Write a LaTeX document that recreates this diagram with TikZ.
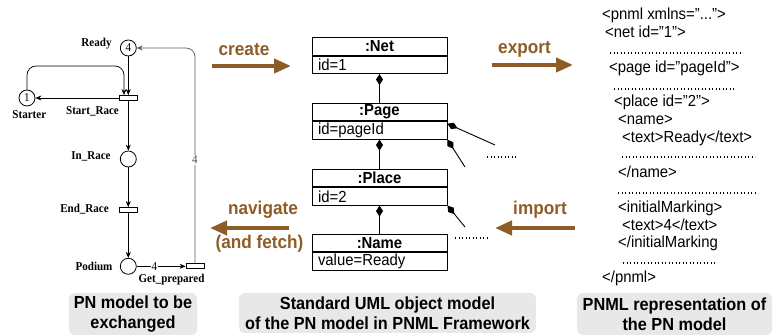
\documentclass[tikz,border=0pt]{standalone}
\usepackage{fontspec}
\setmainfont{Liberation Sans}[FakeStretch=0.93]
\newfontfamily\pnfont{Liberation Serif}[FakeStretch=0.92]
\usetikzlibrary{arrows.meta,calc}
\definecolor{brownc}{RGB}{142,92,38}
\definecolor{capgray}{RGB}{232,232,232}
\tikzset{
  place/.style={circle, draw, line width=0.8pt, minimum size=16pt, inner sep=0pt, font=\pnfont\fontsize{12}{12}\selectfont},
  trans/.style={rectangle, draw, line width=0.8pt, minimum width=18pt, minimum height=5pt, inner sep=0pt},
  pnlabel/.style={font=\pnfont\bfseries\fontsize{12}{12}\selectfont, inner sep=0pt},
  pnarc/.style={-{Stealth[length=6pt,width=5pt]}, line width=0.7pt},
  weight/.style={fill=white, inner sep=1pt, font=\pnfont\fontsize{12}{12}\selectfont},
  umltitle/.style={draw, line width=0.9pt, minimum width=135pt, minimum height=17.5pt, inner sep=0pt, font=\bfseries\fontsize{16}{16}\selectfont},
  umlattr/.style={draw, line width=0.9pt, text width=123pt, inner xsep=6pt, inner ysep=0pt, minimum height=17.5pt, align=left, font=\fontsize{16}{16}\selectfont},
  comp/.style={-{Diamond[length=11pt,width=7pt]}, line width=0.9pt},
  brownarrow/.style={-{Triangle[length=17pt,width=14pt]}, line width=4pt, draw=brownc},
  brownlabel/.style={text=brownc, font=\bfseries\fontsize{18.5}{20}\selectfont, inner sep=0pt},
  pnml/.style={anchor=base west, inner sep=0pt, font=\fontsize{16}{16}\selectfont},
  dotline/.style={line width=1.2pt, dash pattern=on 1.2pt off 2.3pt},
  caption/.style={fill=capgray, rounded corners=6pt, align=center, inner sep=0pt, font=\bfseries\fontsize{17.5}{19.5}\selectfont}
}
\begin{document}
\begin{tikzpicture}[x=1pt,y=-1pt]
\useasboundingbox (0,0) rectangle (776,336);

% ---------------- Petri net ----------------
\node[place] (ready) at (128.3,48) {4};
\node[trans] (startrace) at (128.3,98) {};
\node[place] (starter) at (27,98) {1};
\node[place] (inrace) at (128.3,159) {};
\node[trans] (endrace) at (128.3,210) {};
\node[place] (podium) at (128.3,266.3) {};
\node[trans] (getprep) at (195,266.3) {};

\node[pnlabel] (lready) at (96.5,43.7) {Ready};
\node[pnlabel] (lstarter) at (29.3,114.3) {Starter};
\node[pnlabel] (lstartrace) at (92.5,111) {Start\_Race};
\node[pnlabel] (linrace) at (91,156.7) {In\_Race};
\node[pnlabel] (lendrace) at (84.5,209.3) {End\_Race};
\node[pnlabel] (lpodium) at (94,266.7) {Podium};
\node[pnlabel] (lgetprep) at (171.5,280) {Get\_prepared};

\coordinate (loopc) at (124,66);
\draw[pnarc] (ready) -- (startrace);
\draw[pnarc, rounded corners=9pt] (starter.north) |- (loopc) -- (loopc |- startrace.north);
\draw[pnarc] (startrace) -- (starter);
\draw[pnarc] (startrace) -- (inrace);
\draw[pnarc] (inrace) -- (endrace);
\draw[pnarc] (endrace) -- (podium);
\draw[pnarc] (podium) -- node[weight, pos=0.36] {4} (getprep);
\draw[pnarc, draw=black!65, rounded corners=9pt] (getprep.north) |- node[weight, pos=0.24, text=black!70] {4} (ready.east);

% ---------------- UML object model ----------------
\node[umltitle] (nett) at (379.5,46.5) {:Net};
\node[umlattr, anchor=north] (neta) at (nett.south) {id=1};
\node[umltitle] (paget) at (379.5,112) {:Page};
\node[umlattr, anchor=north] (pagea) at (paget.south) {id=pageId};
\node[umltitle] (placet) at (379.5,178) {:Place};
\node[umlattr, anchor=north] (placea) at (placet.south) {id=2};
\node[umltitle] (namet) at (379.5,243) {:Name};
\node[umlattr, anchor=north] (namea) at (namet.south) {value=Ready};

\draw[comp] (paget.north) -- (neta.south);
\draw[comp] (placet.north) -- (pagea.south);
\draw[comp] (namet.north) -- (placea.south);
\coordinate (e1) at (495,145);
\coordinate (e2) at (465,167);
\coordinate (e3) at (465,227);
\draw[comp] (e1) -- ([yshift=-2.5pt]pagea.north east);
\draw[comp] (e2) -- (pagea.south east);
\draw[comp] (e3) -- (placea.south east);
\draw[dotline] (487,157) -- (517,157);
\draw[dotline] (455,238) -- (487,238);

% ---------------- brown arrows ----------------
\coordinate (cra) at (212,66);  \coordinate (crb) at (291,66);
\draw[brownarrow] (cra) -- (crb);
\node[brownlabel] (lcreate) at (244,50) {create};
\coordinate (nva) at (289,228); \coordinate (nvb) at (210,228);
\draw[brownarrow] (nva) -- (nvb);
\node[brownlabel] (lnav) at (263,210) {navigate};
\node[brownlabel] (lfetch) at (259.5,244) {(and fetch)};
\coordinate (exa) at (492,65);  \coordinate (exb) at (573,65);
\draw[brownarrow] (exa) -- (exb);
\node[brownlabel] (lexport) at (524.5,49) {export};
\coordinate (ima) at (575,228); \coordinate (imb) at (495,228);
\draw[brownarrow] (ima) -- (imb);
\node[brownlabel] (limport) at (540,210) {import};

% ---------------- PNML text ----------------
\node[pnml] (x1) at (602,19.5) {<pnml xmlns="...">};
\node[pnml] (x2) at (605,37.5) {<net id="1">};
\draw[dotline] (610,53) -- (743,53);
\node[pnml] (x3) at (609,72.5) {<page id="pageId">};
\draw[dotline] (614,89) -- (734,89);
\node[pnml] (x4) at (614,106.5) {<place id="2">};
\node[pnml] (x5) at (618,124.5) {<name>};
\node[pnml] (x6) at (622,142.5) {<text>Ready</text>};
\draw[dotline] (622,157) -- (755,157);
\node[pnml] (x7) at (618,177.5) {</name>};
\draw[dotline] (618,193) -- (755,193);
\node[pnml] (x8) at (618,212.5) {<initialMarking>};
\node[pnml] (x9) at (622,230.5) {<text>4</text>};
\node[pnml] (x10) at (618,247.5) {</initialMarking};
\draw[dotline] (623,263) -- (717,263);
\node[pnml] (x11) at (602,282.5) {</pnml>};

% ---------------- captions ----------------
\node[caption, minimum width=128pt, minimum height=42pt] (cap1) at (133,314) {PN model to be\\exchanged};
\node[caption, minimum width=297pt, minimum height=40pt] (cap2) at (387.5,313) {Standard UML object model\\of the PN model in PNML Framework};
\node[caption, minimum width=195pt, minimum height=42pt] (cap3) at (674.5,314) {PNML representation of\\the PN model};
\end{tikzpicture}
\end{document}
